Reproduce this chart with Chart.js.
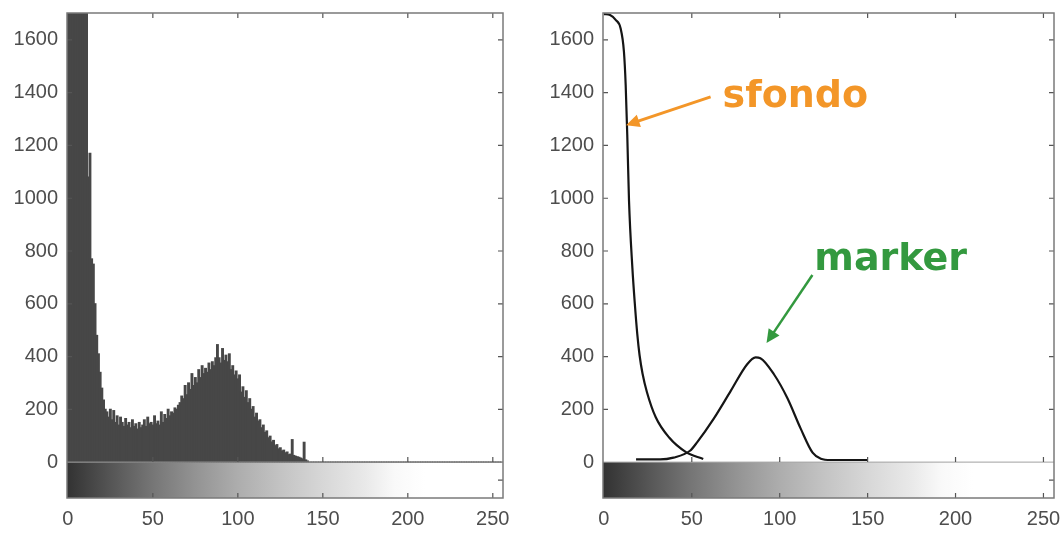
<!DOCTYPE html>
<html>
<head>
<meta charset="utf-8">
<title>Istogramma - sfondo / marker</title>
<script src="https://cdn.jsdelivr.net/npm/chart.js@4.4.0/dist/chart.umd.min.js"></script>
<style>
  html, body { margin: 0; padding: 0; background: #fff; }
  #wrap { position: relative; width: 1063px; height: 533px; overflow: hidden; }
  canvas { position: absolute; top: 0; }
  #histChart { left: 0; }
  #modelChart { left: 540px; }
</style>
</head>
<body>
<div id="wrap">
  <canvas id="histChart" width="540" height="533"></canvas>
  <canvas id="modelChart" width="523" height="533"></canvas>
</div>
<script>
// Grey-level histogram (left) and the two fitted populations (right)

const X_TICKS = [0, 50, 100, 150, 200, 250];
const Y_TICKS = [0, 200, 400, 600, 800, 1000, 1200, 1400, 1600];

// counts per grey level 0..255 (bins 0-11 are clipped at the top)
const HIST_COUNTS = [
  2400, 3100, 3600, 3900, 4100, 3900, 3500, 3000, 2500, 2100, 1850, 1720, 1080, 1170, 770, 750,
  600, 480, 410, 340, 280, 235, 200, 190, 170, 200, 160, 195, 150, 175, 140, 170,
  150, 135, 165, 140, 150, 130, 160, 135, 145, 125, 150, 130, 140, 160, 135, 170,
  145, 150, 140, 175, 145, 155, 140, 190, 150, 180, 165, 200, 175, 190, 185, 205,
  200, 215, 225, 250, 240, 290, 255, 300, 275, 335, 290, 320, 300, 350, 320, 365,
  335, 355, 340, 375, 350, 380, 365, 395, 445, 395, 375, 430, 385, 405, 380, 410,
  350, 365, 330, 345, 315, 330, 265, 285, 245, 270, 225, 240, 200, 210, 170, 185,
  155, 160, 130, 140, 112, 118, 92, 98, 76, 82, 62, 66, 50, 54, 42, 45,
  35, 38, 28, 30, 85, 25, 22, 20, 18, 15, 12, 75, 8, 4, 0, 0,
  0, 0, 0, 0, 0, 0, 0, 0, 0, 0, 0, 0, 0, 0, 0, 0,
  0, 0, 0, 0, 0, 0, 0, 0, 0, 0, 0, 0, 0, 0, 0, 0,
  0, 0, 0, 0, 0, 0, 0, 0, 0, 0, 0, 0, 0, 0, 0, 0,
  0, 0, 0, 0, 0, 0, 0, 0, 0, 0, 0, 0, 0, 0, 0, 0,
  0, 0, 0, 0, 0, 0, 0, 0, 0, 0, 0, 0, 0, 0, 0, 0,
  0, 0, 0, 0, 0, 0, 0, 0, 0, 0, 0, 0, 0, 0, 0, 0,
  0, 0, 0, 0, 0, 0, 0, 0, 0, 0, 0, 0, 0, 0, 0, 0
];

// background curve ("sfondo")
const SFONDO_X = [0, 3.5, 6.7, 9.5, 11.4, 12.4, 13.3, 14.3, 16.2, 17.6, 19, 20.3, 22, 24.5, 29.5, 37, 46.7, 56.5];
const SFONDO_Y = [1698, 1694, 1676, 1644, 1556, 1429, 1240, 989, 737, 600, 485, 405, 335, 265, 170, 94, 38, 12];

// marker curve
const MARKER_X = [18.3, 32, 39.6, 49, 53, 62.5, 72, 81.5, 86.3, 89, 96.8, 104.4, 112, 118.7, 123.4, 129, 150];
const MARKER_Y = [10, 10, 17, 43, 75, 165, 268, 371, 397, 394, 332, 242, 126, 36, 13, 8, 8];

// labels with their arrows, in data coordinates of the right panel
const NOTES = [
  { text: 'sfondo', color: '#f39628', at: [67.5, 1346], from: [60.7, 1384], to: [12.6, 1277], width: 3 },
  { text: 'marker', color: '#33993f', at: [119.7, 728], from: [118.6, 709], to: [92.5, 451], width: 2.5 }
];

const GREY_STOPS = [
  [0, '#333333'], [25, '#555555'], [50, '#767676'], [75, '#939393'], [100, '#adadad'],
  [125, '#c3c3c3'], [150, '#d7d7d7'], [175, '#e9e9e9'], [192, '#f9f9f9'], [210, '#ffffff'], [255, '#ffffff']
];

const Y_MIN = -136;
const Y_MAX = 1702;
const LABEL_FONT = { family: "'Liberation Sans', Arial, sans-serif", size: 20 };
const LABEL_COLOR = '#4d4d4d';

function xy(xs, ys) {
  return xs.map((x, i) => ({ x: x, y: ys[i] }));
}

// grey colour bar under the zero line
const colorBarPlugin = {
  id: 'colorBar',
  beforeDatasetsDraw(chart) {
    const { ctx, chartArea: a, scales: { x, y } } = chart;
    const y0 = y.getPixelForValue(0);
    const x0 = x.getPixelForValue(0);
    const x1 = x.getPixelForValue(255);
    const grad = ctx.createLinearGradient(x0, 0, x1, 0);
    GREY_STOPS.forEach(s => grad.addColorStop(s[0] / 255, s[1]));
    ctx.save();
    ctx.fillStyle = grad;
    ctx.fillRect(a.left, y0, a.right - a.left, a.bottom - y0);
    ctx.restore();
  }
};

// MATLAB style box with inward ticks
const framePlugin = {
  id: 'frame',
  afterDatasetsDraw(chart) {
    const { ctx, chartArea: a, scales: { x, y } } = chart;
    const y0 = y.getPixelForValue(0);
    ctx.save();
    ctx.lineWidth = 1;
    ctx.strokeStyle = '#a0a0a0';
    ctx.beginPath();
    ctx.moveTo(a.left, y0);
    ctx.lineTo(a.right, y0);
    ctx.stroke();

    ctx.strokeStyle = '#555';
    ctx.lineWidth = 1.2;
    ctx.beginPath();
    X_TICKS.slice(1).forEach(t => {
      const px = x.getPixelForValue(t);
      ctx.moveTo(px, a.top); ctx.lineTo(px, a.top + 5);
      ctx.moveTo(px, y0); ctx.lineTo(px, y0 - 5);
      ctx.moveTo(px, a.bottom); ctx.lineTo(px, a.bottom - 5);
    });
    Y_TICKS.slice(1).forEach(t => {
      const py = y.getPixelForValue(t);
      ctx.moveTo(a.left, py); ctx.lineTo(a.left + 5, py);
      ctx.moveTo(a.right, py); ctx.lineTo(a.right - 5, py);
    });
    const mid = (y0 + a.bottom) / 2;
    ctx.moveTo(a.right, mid); ctx.lineTo(a.right - 5, mid);
    ctx.stroke();

    ctx.strokeStyle = '#7a7a7a';
    ctx.lineWidth = 1.5;
    ctx.strokeRect(a.left, a.top, a.right - a.left, a.bottom - a.top);
    ctx.restore();
  }
};

// text labels and arrows on the right panel
const notesPlugin = {
  id: 'notes',
  afterDraw(chart) {
    const { ctx, scales: { x, y } } = chart;
    ctx.save();
    NOTES.forEach(n => {
      ctx.fillStyle = n.color;
      ctx.font = "bold 38px 'DejaVu Sans', sans-serif";
      ctx.textBaseline = 'alphabetic';
      ctx.fillText(n.text, x.getPixelForValue(n.at[0]), y.getPixelForValue(n.at[1]));

      const fx = x.getPixelForValue(n.from[0]), fy = y.getPixelForValue(n.from[1]);
      const tx = x.getPixelForValue(n.to[0]), ty = y.getPixelForValue(n.to[1]);
      const ang = Math.atan2(ty - fy, tx - fx);
      const head = 15;
      ctx.strokeStyle = n.color;
      ctx.lineWidth = n.width;
      ctx.beginPath();
      ctx.moveTo(fx, fy);
      ctx.lineTo(tx - Math.cos(ang) * head * 0.8, ty - Math.sin(ang) * head * 0.8);
      ctx.stroke();
      ctx.beginPath();
      ctx.moveTo(tx, ty);
      ctx.lineTo(tx - head * Math.cos(ang - 0.45), ty - head * Math.sin(ang - 0.45));
      ctx.lineTo(tx - head * Math.cos(ang + 0.45), ty - head * Math.sin(ang + 0.45));
      ctx.closePath();
      ctx.fill();
    });
    ctx.restore();
  }
};

function noPad(s) {
  s.paddingTop = 0; s.paddingBottom = 0; s.paddingLeft = 0; s.paddingRight = 0;
}

function axes(yWidth) {
  return {
    x: {
      type: 'linear',
      min: -0.5,
      max: 256,
      offset: false,
      afterBuildTicks: s => { s.ticks = X_TICKS.map(v => ({ value: v })); },
      afterFit: s => { s.height = 35; noPad(s); },
      grid: { display: false, drawTicks: false, offset: false },
      border: { display: false },
      ticks: { font: LABEL_FONT, color: LABEL_COLOR, padding: 9, maxRotation: 0, callback: v => String(v) }
    },
    y: {
      type: 'linear',
      min: Y_MIN,
      max: Y_MAX,
      afterBuildTicks: s => { s.ticks = Y_TICKS.map(v => ({ value: v })); },
      afterFit: s => { s.width = yWidth; noPad(s); },
      grid: { display: false, drawTicks: false },
      border: { display: false },
      ticks: { font: LABEL_FONT, color: LABEL_COLOR, padding: 9, callback: v => String(v) }
    }
  };
}

const baseOptions = {
  responsive: false,
  animation: false,
  events: [],
  plugins: { legend: { display: false }, tooltip: { enabled: false } }
};

new Chart(document.getElementById('histChart'), {
  type: 'bar',
  data: {
    datasets: [{
      data: xy(HIST_COUNTS.map((c, i) => i), HIST_COUNTS),
      backgroundColor: '#474747',
      borderWidth: 0,
      barPercentage: 1,
      categoryPercentage: 1,
      inflateAmount: 0.6
    }]
  },
  options: Object.assign({}, baseOptions, {
    layout: { padding: { left: 0, right: 37, top: 13, bottom: 0 } },
    scales: axes(67)
  }),
  plugins: [colorBarPlugin, framePlugin]
});

new Chart(document.getElementById('modelChart'), {
  type: 'line',
  data: {
    datasets: [
      { data: xy(SFONDO_X, SFONDO_Y), borderColor: '#151515', borderWidth: 2.2, pointRadius: 0, cubicInterpolationMode: 'monotone', tension: 0.4 },
      { data: xy(MARKER_X, MARKER_Y), borderColor: '#151515', borderWidth: 2.2, pointRadius: 0, cubicInterpolationMode: 'monotone', tension: 0.4 }
    ]
  },
  options: Object.assign({}, baseOptions, {
    layout: { padding: { left: 0, right: 9, top: 13, bottom: 0 } },
    scales: axes(63)
  }),
  plugins: [colorBarPlugin, framePlugin, notesPlugin]
});
</script>
</body>
</html>
